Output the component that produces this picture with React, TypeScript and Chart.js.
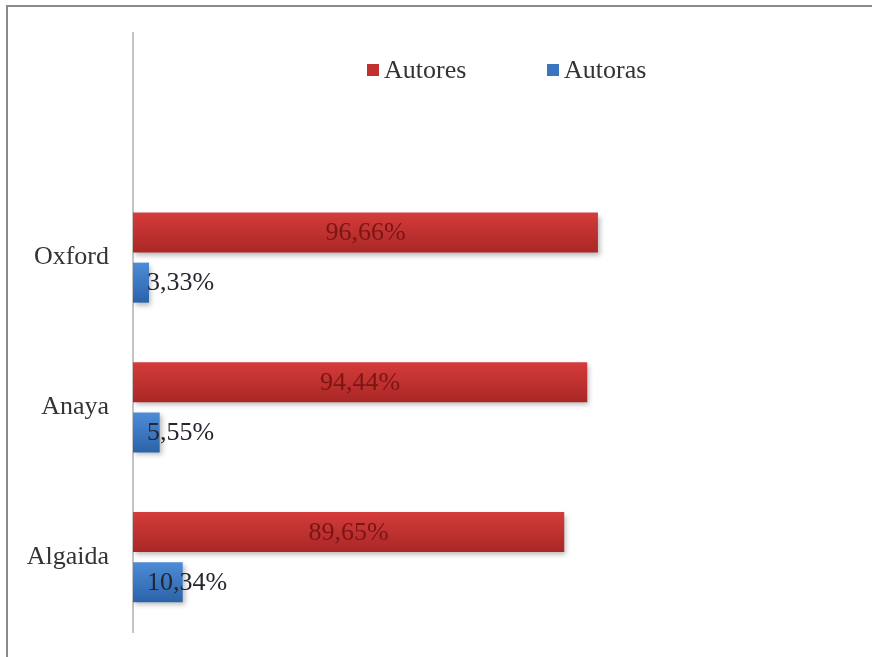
import React, { useEffect, useRef } from "react";
import { Chart, registerables } from "chart.js";

Chart.register(...registerables);

const categories = ["", "Oxford", "Anaya", "Algaida"];
const autores = [null, 96.66, 94.44, 89.65];
const autoras = [null, 3.33, 5.55, 10.34];
const autoresLabels = ["", "96,66%", "94,44%", "89,65%"];
const autorasLabels = ["", "3,33%", "5,55%", "10,34%"];
const seriesNames = ["Autores", "Autoras"];

const FONT = "'Liberation Serif', 'Times New Roman', serif";

const gradients: Record<number, [string, string]> = {
  0: ["#d43c3a", "#a92725"],
  1: ["#4d8cd6", "#2b63aa"],
};

const framePlugin = {
  id: "frame",
  beforeDraw(chart: any) {
    const ctx = chart.ctx;
    ctx.save();
    ctx.fillStyle = "#ffffff";
    ctx.fillRect(0, 0, chart.width, chart.height);
    ctx.strokeStyle = "#8a8a8a";
    ctx.lineWidth = 2;
    ctx.beginPath();
    ctx.moveTo(7, chart.height);
    ctx.lineTo(7, 6);
    ctx.lineTo(chart.width, 6);
    ctx.stroke();
    ctx.restore();
  },
};

const shadowPlugin = {
  id: "barShadow",
  beforeDatasetsDraw(chart: any) {
    chart.data.datasets.forEach((_: any, di: number) => {
      const meta = chart.getDatasetMeta(di);
      meta.data.forEach((el: any) => {
        if (!el || el.skip || el.height == null || isNaN(el.y)) return;
        const top = el.y - el.height / 2;
        const bottom = el.y + el.height / 2;
        const g = chart.ctx.createLinearGradient(0, top, 0, bottom);
        g.addColorStop(0, gradients[di][0]);
        g.addColorStop(1, gradients[di][1]);
        if (el.options) el.options.backgroundColor = g;
      });
    });
    const ctx = chart.ctx;
    ctx.save();
    ctx.shadowColor = "rgba(0,0,0,0.28)";
    ctx.shadowBlur = 5;
    ctx.shadowOffsetX = 2;
    ctx.shadowOffsetY = 3;
  },
  afterDatasetsDraw(chart: any) {
    chart.ctx.restore();
  },
};

const labelsPlugin = {
  id: "valueLabels",
  afterDraw(chart: any) {
    const ctx = chart.ctx;
    ctx.save();
    ctx.font = `26px ${FONT}`;
    ctx.textBaseline = "middle";
    const red = chart.getDatasetMeta(0);
    red.data.forEach((el: any, i: number) => {
      const txt = autoresLabels[i];
      if (!txt) return;
      ctx.fillStyle = "#7a1616";
      ctx.textAlign = "center";
      ctx.fillText(txt, (el.base + el.x) / 2, el.y + 1);
    });
    const blue = chart.getDatasetMeta(1);
    blue.data.forEach((el: any, i: number) => {
      const txt = autorasLabels[i];
      if (!txt) return;
      ctx.fillStyle = "#262630";
      ctx.textAlign = "left";
      ctx.fillText(txt, el.base + 14, el.y + 1);
    });

    // legend
    const items = [
      { name: seriesNames[0], color: "#c0312f", x: 367 },
      { name: seriesNames[1], color: "#3a76c0", x: 547 },
    ];
    const ly = 70;
    items.forEach((it) => {
      ctx.fillStyle = it.color;
      ctx.fillRect(it.x, ly - 6, 12, 12);
      ctx.fillStyle = "#333333";
      ctx.textAlign = "left";
      ctx.fillText(it.name, it.x + 17, ly + 1);
    });
    ctx.restore();
  },
};

export default function App() {
  const ref = useRef<HTMLCanvasElement | null>(null);

  useEffect(() => {
    if (!ref.current) return;
    const chart = new Chart(ref.current, {
      type: "bar",
      data: {
        labels: categories,
        datasets: [
          {
            label: seriesNames[0],
            data: autores as any,
            backgroundColor: () => "#c0312f",
            categoryPercentage: 0.668,
            barPercentage: 0.8,
          },
          {
            label: seriesNames[1],
            data: autoras as any,
            backgroundColor: () => "#3a76c0",
            categoryPercentage: 0.668,
            barPercentage: 0.8,
          },
        ],
      },
      options: {
        indexAxis: "y",
        animation: false,
        responsive: true,
        maintainAspectRatio: false,
        layout: { padding: { left: 0, right: 258, top: 33, bottom: 25 } },
        plugins: {
          legend: { display: false },
          tooltip: { enabled: false },
        },
        scales: {
          x: {
            display: false,
            min: 0,
            max: 100,
          },
          y: {
            afterFit(scale: any) {
              scale.width = 133;
              scale.paddingTop = 0;
              scale.paddingBottom = 0;
            },
            grid: { display: false, drawTicks: false },
            border: { display: true, color: "#c4c4c4", width: 2 },
            ticks: {
              padding: 24,
              color: "#333333",
              font: { family: FONT, size: 26 },
            },
          },
        },
      },
      plugins: [framePlugin, shadowPlugin, labelsPlugin],
    });
    return () => chart.destroy();
  }, []);

  return (
    <div
      style={{
        position: "fixed",
        left: 0,
        top: 0,
        width: 872,
        height: 657,
        background: "#fff",
      }}
    >
      <canvas ref={ref} />
    </div>
  );
}
